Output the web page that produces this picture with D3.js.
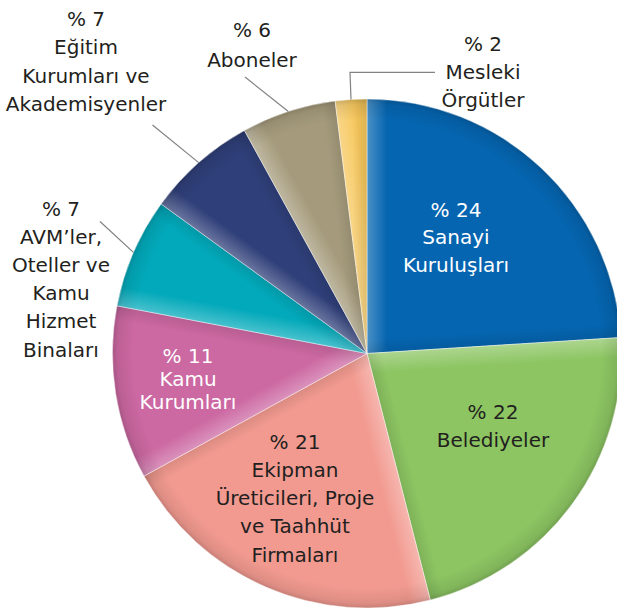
<!DOCTYPE html>
<html><head><meta charset="utf-8">
<script src="https://cdn.jsdelivr.net/npm/d3@7"></script>
<style>html,body{margin:0;padding:0;background:#fff;}svg{display:block;}</style>
</head><body>
<script>
const categories = ["Sanayi Kuruluşları","Belediyeler","Ekipman Üreticileri, Proje ve Taahhüt Firmaları","Kamu Kurumları","AVM'ler, Oteller ve Kamu Hizmet Binaları","Eğitim Kurumları ve Akademisyenler","Aboneler","Mesleki Örgütler"];
const values = [24, 22, 21, 11, 7, 7, 6, 2];
const labelLines = [
  ["% 24","Sanayi","Kuruluşları"],
  ["% 22","Belediyeler"],
  ["% 21","Ekipman","Üreticileri, Proje","ve Taahhüt","Firmaları"],
  ["% 11","Kamu","Kurumları"],
  ["% 7","AVM’ler,","Oteller ve","Kamu","Hizmet","Binaları"],
  ["% 7","Eğitim","Kurumları ve","Akademisyenler"],
  ["% 6","Aboneler"],
  ["% 2","Mesleki","Örgütler"]
];
const colors = ["#0565b0","#8cc562","#f29a90","#cc68a2","#02a9ba","#2f3f79","#a59b7c","#f6c65a"];
const textColors = ["#fff","#231f20","#231f20","#fff","#231f20","#231f20","#231f20","#231f20"];
// label layout: anchor (center x, first baseline y), line spacing
const labelPos = [[456,216.5,27.5],[493,418.5,28.4],[295,448.5,28.3],[188,362.5,23.4],[61,216,28.1],[86,25.5,28.5],[252,37.3,30],[483,50.7,28.3]];
// leader end points (outside) for outside labels
const leaders = {4:[[100,221.5]],5:[[152.5,125]],6:[[245,77]],7:[[350,72.3],[435,72.3]]};

const W=617,H=612, cx=367, cy=353.5, R=254.5;
const svg=d3.select("body").append("svg").attr("width",W).attr("height",H);
const defs=svg.append("defs");
const rg=defs.append("radialGradient").attr("id","rim").attr("gradientUnits","userSpaceOnUse")
  .attr("cx",0).attr("cy",0).attr("r",R);
rg.append("stop").attr("offset",0).attr("stop-color","#000").attr("stop-opacity",0);
rg.append("stop").attr("offset",0.92).attr("stop-color","#000").attr("stop-opacity",0);
rg.append("stop").attr("offset",0.98).attr("stop-color","#000").attr("stop-opacity",0.08);
rg.append("stop").attr("offset",1).attr("stop-color","#000").attr("stop-opacity",0.18);

const pie=d3.pie().sort(null).value(d=>d)(values);
const arc=d3.arc().innerRadius(0).outerRadius(R);
const g=svg.append("g").attr("transform",`translate(${cx},${cy})`);

pie.forEach((p,i)=>{
  const a0=p.startAngle,a1=p.endAngle, rm=R*0.6;
  const s=[rm*Math.sin(a0),-rm*Math.cos(a0)], e=[rm*Math.sin(a1),-rm*Math.cos(a1)];
  const hl=defs.append("linearGradient").attr("id","hl"+i).attr("gradientUnits","userSpaceOnUse")
    .attr("x1",s[0]).attr("y1",s[1]).attr("x2",s[0]+20*Math.cos(a0)).attr("y2",s[1]+20*Math.sin(a0));
  hl.append("stop").attr("offset",0).attr("stop-color","#fff").attr("stop-opacity",0.28);
  hl.append("stop").attr("offset",1).attr("stop-color","#fff").attr("stop-opacity",0);
  const sh=defs.append("linearGradient").attr("id","sh"+i).attr("gradientUnits","userSpaceOnUse")
    .attr("x1",e[0]).attr("y1",e[1]).attr("x2",e[0]-14*Math.cos(a1)).attr("y2",e[1]-14*Math.sin(a1));
  sh.append("stop").attr("offset",0).attr("stop-color","#000").attr("stop-opacity",0.1);
  sh.append("stop").attr("offset",1).attr("stop-color","#000").attr("stop-opacity",0);
  const d=arc(p);
  g.append("path").attr("d",d).attr("fill",colors[i]);
  g.append("path").attr("d",d).attr("fill",`url(#hl${i})`);
  g.append("path").attr("d",d).attr("fill",`url(#sh${i})`);
  g.append("path").attr("d",d).attr("fill","url(#rim)");
  g.append("path").attr("d",d).attr("fill","none").attr("stroke","rgba(255,255,255,0.55)").attr("stroke-width",0.8);
});

// leader lines
Object.keys(leaders).forEach(k=>{
  const p=pie[k], a=(p.startAngle+p.endAngle)/2;
  const pts=[[cx+R*Math.sin(a),cy-R*Math.cos(a)]].concat(leaders[k]);
  svg.append("path").attr("d",d3.line()(pts)).attr("fill","none").attr("stroke","#808285").attr("stroke-width",1.2);
});

// labels
labelLines.forEach((lines,i)=>{
  const [x,y,dy]=labelPos[i];
  const t=svg.append("text").attr("text-anchor","middle").attr("font-family","DejaVu Sans, sans-serif")
    .attr("font-size",20).attr("fill",textColors[i]);
  lines.forEach((l,j)=>t.append("tspan").attr("x",x).attr("y",y+j*dy).text(l));
});
</script>
</body></html>
